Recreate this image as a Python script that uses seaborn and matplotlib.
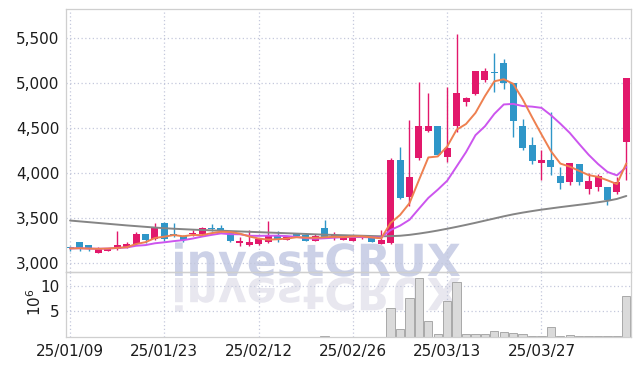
import numpy as np
import pandas as pd
import seaborn as sns
import matplotlib.pyplot as plt
from matplotlib.textpath import TextPath
from matplotlib.patches import PathPatch
from matplotlib.font_manager import FontProperties
from matplotlib.transforms import Affine2D

# daily candles, 25/01/09 .. 25/04/09 (60 trading days)
opens = [3185, 3235, 3200, 3120, 3140, 3155, 3170, 3210, 3325, 3265,
         3450, 3320, 3305, 3320, 3320, 3395, 3390, 3340, 3230, 3205,
         3210, 3240, 3305, 3260, 3325, 3315, 3250, 3390, 3290, 3260,
         3250, 3280, 3290, 3215, 3220, 4150, 3740, 4165, 4475, 4520,
         4185, 4520, 4795, 4880, 5035, 5130, 5220, 5000, 4525, 4315,
         4110, 4150, 3975, 3905, 4100, 3820, 3850, 3845, 3795, 4350]
highs = [3190, 3240, 3205, 3180, 3175, 3355, 3235, 3345, 3330, 3450,
         3455, 3450, 3310, 3370, 3405, 3440, 3425, 3345, 3295, 3370,
         3275, 3470, 3355, 3295, 3330, 3320, 3330, 3480, 3350, 3295,
         3295, 3305, 3295, 3370, 4175, 4290, 4590, 5010, 4890, 4525,
         4960, 5545, 4845, 5140, 5165, 5335, 5265, 5005, 4600, 4405,
         4260, 4685, 4075, 4115, 4105, 4005, 3990, 3850, 3955, 5055]
lows = [3135, 3140, 3135, 3115, 3135, 3150, 3165, 3205, 3230, 3260,
        3250, 3290, 3235, 3300, 3315, 3355, 3350, 3240, 3195, 3195,
        3205, 3220, 3235, 3255, 3300, 3245, 3245, 3290, 3255, 3255,
        3245, 3275, 3235, 3210, 3215, 3710, 3635, 4150, 4460, 4200,
        4120, 4460, 4750, 4875, 5010, 4905, 4935, 4405, 4255, 4105,
        3920, 3980, 3825, 3870, 3870, 3770, 3805, 3650, 3770, 3920]
closes = [3165, 3170, 3155, 3155, 3175, 3200, 3210, 3330, 3260, 3405,
          3275, 3300, 3260, 3335, 3395, 3385, 3375, 3245, 3250, 3235,
          3270, 3315, 3265, 3290, 3305, 3250, 3305, 3295, 3315, 3290,
          3290, 3305, 3240, 3260, 4150, 3730, 3960, 4520, 4520, 4205,
          4285, 4890, 4840, 5135, 5135, 5110, 5005, 4585, 4280, 4140,
          4150, 4075, 3895, 4110, 3905, 3915, 3975, 3705, 3900, 5055]
# volume in millions of shares
volume = [0.05, 0.05, 0.04, 0.05, 0.04, 0.08, 0.05, 0.07, 0.05, 0.08,
          0.07, 0.05, 0.04, 0.04, 0.05, 0.04, 0.04, 0.05, 0.04, 0.05,
          0.04, 0.07, 0.04, 0.04, 0.03, 0.04, 0.05, 0.25, 0.05, 0.04,
          0.04, 0.04, 0.05, 0.06, 5.66, 1.57, 7.6, 11.5, 3.05, 0.6,
          7.08, 10.7, 0.6, 0.6, 0.6, 1.1, 1.0, 0.8, 0.6, 0.27,
          0.27, 1.96, 0.25, 0.45, 0.2, 0.15, 0.15, 0.15, 0.15, 8.05]
# 60-day moving average (needs history before the window)
ma60 = [3475, 3466, 3457, 3448, 3439, 3430, 3421, 3413, 3405, 3397,
        3390, 3384, 3379, 3374, 3370, 3366, 3362, 3358, 3354, 3350,
        3346, 3342, 3338, 3334, 3330, 3326, 3322, 3318, 3315, 3312,
        3309, 3306, 3303, 3300, 3302, 3306, 3316, 3330, 3346, 3364,
        3384, 3405, 3427, 3450, 3474, 3498, 3522, 3544, 3563, 3580,
        3596, 3610, 3624, 3637, 3650, 3663, 3678, 3694, 3715, 3748]

tick_pos = [0, 10, 20, 30, 40, 50]
tick_labels = ['25/01/09', '25/01/23', '25/02/12', '25/02/26', '25/03/13', '25/03/27']

df = pd.DataFrame({'open': opens, 'high': highs, 'low': lows,
                   'close': closes, 'volume': volume, 'ma60': ma60})
df['idx'] = np.arange(len(df))
df['ma5'] = df['close'].rolling(5, min_periods=1).mean()
df['ma10'] = df['close'].rolling(10, min_periods=1).mean()

UP, DOWN = '#e2186b', '#2f96c8'
cols = np.where(df['close'] >= df['open'], UP, DOWN)
body_low = df[['open', 'close']].min(axis=1)
body_h = (df['close'] - df['open']).abs().clip(lower=12)

sns.set_theme(style='white')
plt.rcParams['font.family'] = ['Liberation Sans Narrow', 'DejaVu Sans']

fig = plt.figure(figsize=(6.39, 3.66), dpi=100)
ax = fig.add_axes([0.1038, 0.256, 0.883, 0.7194])
axv = fig.add_axes([0.1038, 0.0792, 0.883, 0.1768], sharex=ax)
for a in (ax, axv):
    a.set_facecolor('none')

# candles
ax.vlines(df['idx'], df['low'], df['high'], colors=cols, linewidth=1, zorder=2)
ax.bar(df['idx'], body_h, bottom=body_low, width=0.74, color=cols, linewidth=0, zorder=2)

# moving averages
sns.lineplot(data=df, x='idx', y='ma60', ax=ax, color='#858585', linewidth=1.4, zorder=3)
sns.lineplot(data=df, x='idx', y='ma10', ax=ax, color='#cc55ee', linewidth=1.4, zorder=3)
sns.lineplot(data=df, x='idx', y='ma5', ax=ax, color='#ee8050', linewidth=1.4, zorder=3)

# volume
sns.barplot(data=df, x='idx', y='volume', ax=axv, native_scale=True, width=0.88,
            color='#dadada', edgecolor='#a8a8a8', linewidth=0.7, saturation=1)

grid_kw = dict(color='#c4c8dc', linestyle=(0, (1, 2)), linewidth=0.9)
for a in (ax, axv):
    a.grid(True, **grid_kw)
    for s in a.spines.values():
        s.set_color('#cfcfcf')
        s.set_linewidth(0.9)
    a.tick_params(length=0, labelsize=11, colors='#1c1c1c', pad=5)
ax.spines['bottom'].set_color('#bbbbbb')

ax.set_xlim(-0.4, 59.45)
ax.set_ylim(2900, 5825)
ax.set_yticks([3000, 3500, 4000, 4500, 5000, 5500])
ax.set_yticklabels([f'{v:,}' for v in [3000, 3500, 4000, 4500, 5000, 5500]])
ax.set_xticks(tick_pos)
ax.tick_params(labelbottom=False)
ax.set_xlabel('')
ax.set_ylabel('')

axv.set_ylim(0, 12.66)
axv.set_yticks([5, 10])
axv.set_yticklabels(['5', '10'])
axv.set_xticks(tick_pos)
axv.set_xticklabels(tick_labels)
axv.set_xlim(-0.4, 59.45)
axv.set_xlabel('')
axv.set_ylabel(r'$10^6$', fontsize=11, color='#1c1c1c')
axv.yaxis.set_label_coords(-0.04, 0.54)

# watermark with reflection
fp = FontProperties(family=['Liberation Sans Narrow', 'DejaVu Sans'], weight='bold')
tp = TextPath((0, 0), 'investCRUX', size=100, prop=fp)
ext = tp.get_extents()
sc = 285 / ext.width
x0 = 175 - ext.x0 * sc
base = 366 - 276
fig.patches.append(PathPatch(tp, transform=Affine2D().scale(sc, sc).translate(x0, base),
                             facecolor='#ccd1e7', edgecolor='none', zorder=-1))
fig.patches.append(PathPatch(tp, transform=Affine2D().scale(sc, -sc).translate(x0, base - 2),
                             facecolor='#e8e7ef', edgecolor='none', zorder=-1))

fig.savefig('out.png', dpi=100)
